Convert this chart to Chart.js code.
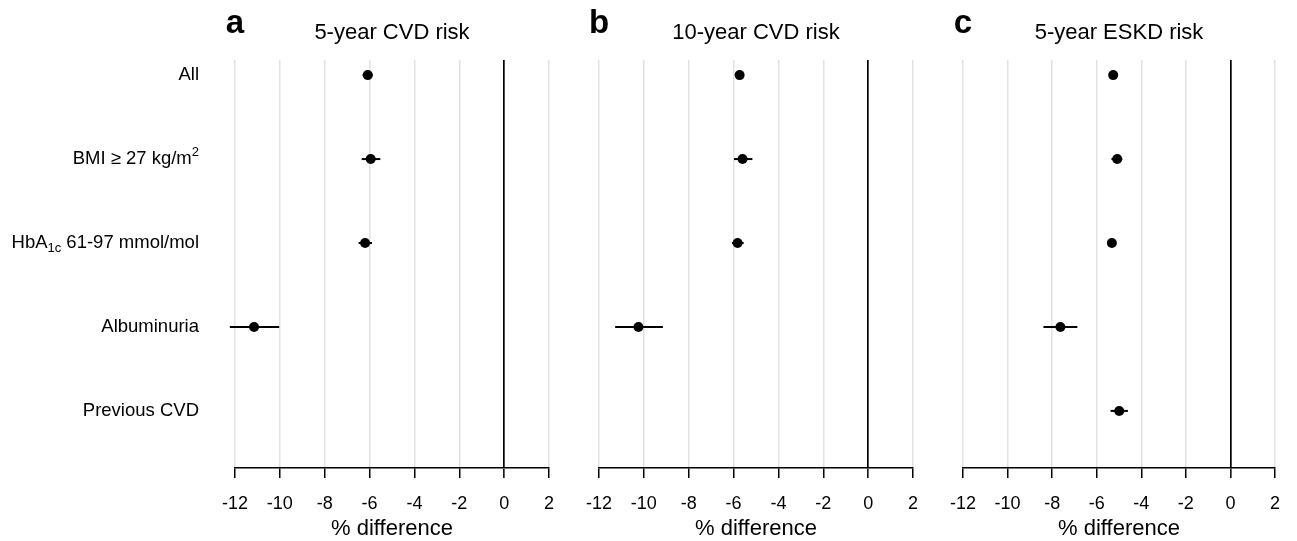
<!DOCTYPE html>
<html>
<head>
<meta charset="utf-8">
<script src="https://cdn.jsdelivr.net/npm/chart.js@4.4.1/dist/chart.umd.min.js"></script>
<style>
  body { margin: 0; background: #fff; }
  #wrap { position: relative; width: 1297px; height: 541px; }
  canvas { position: absolute; top: 0; }
</style>
</head>
<body>
<div id="wrap">
  <canvas id="chartA" width="570" height="541" style="left:0px"></canvas>
  <canvas id="chartB" width="363" height="541" style="left:570px"></canvas>
  <canvas id="chartC" width="367" height="541" style="left:930px"></canvas>
</div>
<script>
// ---- data
const rowLabels = ["All", "BMI \u2265 27 kg/m2", "HbA1c 61-97 mmol/mol", "Albuminuria", "Previous CVD"];
// label pieces with sub / superscripts
const rowLabelParts = [
  [["All"]],
  [["BMI \u2265 27 kg/m"], ["2", "sup"]],
  [["HbA"], ["1c", "sub"], [" 61-97 mmol/mol"]],
  [["Albuminuria"]],
  [["Previous CVD"]]
];
const panelLetters = ["a", "b", "c"];
const panelTitles = ["5-year CVD risk", "10-year CVD risk", "5-year ESKD risk"];
const xTicks = [-12, -10, -8, -6, -4, -2, 0, 2];

// % difference, point estimate and 95% CI (null = not shown)
const cvd5Est  = [-6.08, -5.95, -6.20, -11.15, null];
const cvd5Low  = [-6.31, -6.35, -6.49, -12.23, null];
const cvd5High = [-5.86, -5.52, -5.89, -10.03, null];

const cvd10Est  = [-5.73, -5.60, -5.82, -10.24, null];
const cvd10Low  = [-5.94, -5.98, -6.07, -11.28, null];
const cvd10High = [-5.54, -5.16, -5.55, -9.15, null];

const eskd5Est  = [-5.26, -5.08, -5.32, -7.63, -4.99];
const eskd5Low  = [-5.41, -5.34, -5.47, -8.39, -5.38];
const eskd5High = [-5.11, -4.85, -5.17, -6.87, -4.60];

const FONT = "'Liberation Sans', Arial, Helvetica, sans-serif";

// draws panel letter + title
const headerPlugin = {
  id: "header",
  afterDraw(chart, args, opts) {
    const c = chart.ctx, area = chart.chartArea;
    c.save();
    c.fillStyle = "#000";
    c.textAlign = "center";
    c.textBaseline = "alphabetic";
    c.font = "bold 33px " + FONT;
    c.fillText(opts.letter, area.left, 33);
    c.font = "22px " + FONT;
    c.fillText(opts.title, (area.left + area.right) / 2, 39);
    c.restore();
  }
};

// row labels on the left of panel a
const rowLabelPlugin = {
  id: "rowLabels",
  afterDraw(chart, args, opts) {
    if (!opts.show) return;
    const c = chart.ctx, yScale = chart.scales.y;
    const right = chart.chartArea.left - 36;
    c.save();
    c.fillStyle = "#000";
    c.textBaseline = "middle";
    c.textAlign = "left";
    rowLabelParts.forEach((parts, i) => {
      const y = yScale.getPixelForValue(i);
      let total = 0;
      const sizes = parts.map(p => {
        c.font = (p[1] ? 13 : 18.5) + "px " + FONT;
        const w = c.measureText(p[0]).width;
        total += w;
        return w;
      });
      let x = right - total;
      parts.forEach((p, k) => {
        c.font = (p[1] ? 13 : 18.5) + "px " + FONT;
        let dy = 0;
        if (p[1] == "sub") dy = 5;
        if (p[1] == "sup") dy = -7;
        c.fillText(p[0], x, y + dy);
        x += sizes[k];
      });
    });
    c.restore();
  }
};

function makePanel(id, idx, est, low, high, padLeft, padRight, showLabels) {
  const ciSets = [];
  low.forEach((l, i) => {
    if (l == null) return;
    ciSets.push({
      data: [{ x: l, y: i }, { x: high[i], y: i }],
      showLine: true,
      borderColor: "#000",
      borderWidth: 2,
      pointRadius: 0,
      clip: false
    });
  });
  const pts = [];
  est.forEach((v, i) => { if (v != null) pts.push({ x: v, y: i }); });

  return new Chart(document.getElementById(id), {
    type: "scatter",
    data: {
      datasets: ciSets.concat([{
        data: pts,
        pointRadius: 5,
        pointBackgroundColor: "#000",
        pointBorderWidth: 0,
        clip: false
      }])
    },
    options: {
      responsive: false,
      animation: false,
      layout: { padding: { left: padLeft, right: padRight, top: 60, bottom: 0 } },
      plugins: {
        legend: { display: false },
        tooltip: { enabled: false },
        header: { letter: panelLetters[idx], title: panelTitles[idx] },
        rowLabels: { show: showLabels }
      },
      scales: {
        x: {
          type: "linear",
          min: -12,
          max: 2,
          afterBuildTicks: s => { s.ticks = xTicks.map(v => ({ value: v })); },
          afterFit: s => { s.height = 73; },
          grid: {
            color: c => (c.tick && c.tick.value === 0) ? "#000" : "#e2e2e2",
            lineWidth: c => (c.tick && c.tick.value === 0) ? 1.7 : 1.5,
            tickColor: "#000",
            tickLength: 10,
            tickWidth: 1.5
          },
          border: { display: true, color: "#000", width: 1.5 },
          ticks: { color: "#000", font: { family: FONT, size: 18 }, padding: 15, maxRotation: 0, autoSkip: false },
          title: { display: true, text: "% difference", color: "#000", font: { family: FONT, size: 22, lineHeight: 1.1 }, padding: { top: 0, bottom: 0 } }
        },
        y: {
          type: "linear",
          min: -0.18,
          max: 4.68,
          reverse: true,
          display: false
        }
      }
    },
    plugins: [headerPlugin, rowLabelPlugin]
  });
}

makePanel("chartA", 0, cvd5Est, cvd5Low, cvd5High, 235, 21, true);
makePanel("chartB", 1, cvd10Est, cvd10Low, cvd10High, 29, 20, false);
makePanel("chartC", 2, eskd5Est, eskd5Low, eskd5High, 33, 22, false);
</script>
</body>
</html>
